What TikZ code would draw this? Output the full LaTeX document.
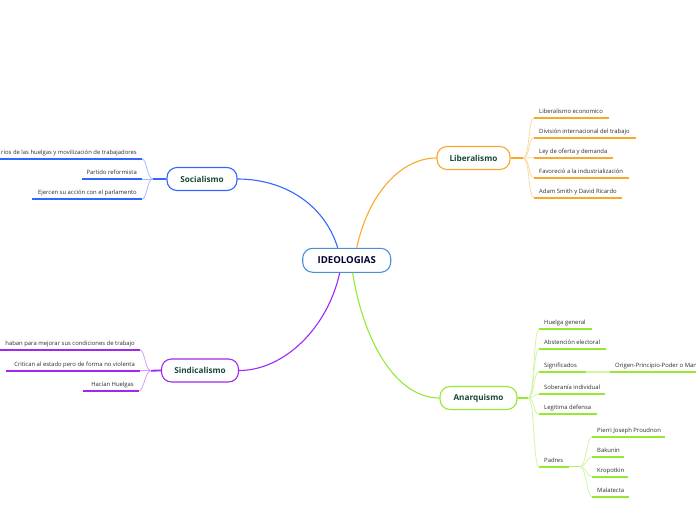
\documentclass[tikz,border=0pt]{standalone}
\usepackage{fontspec}
\setmainfont{Open Sans}

\definecolor{ideoblue}{RGB}{74,144,217}
\definecolor{socblue}{RGB}{51,102,255}
\definecolor{liborange}{RGB}{250,168,45}
\definecolor{sinpurple}{RGB}{160,40,240}
\definecolor{anagreen}{RGB}{150,232,50}
\definecolor{titlegreen}{RGB}{24,72,58}
\definecolor{leafgray}{RGB}{45,45,45}

\tikzset{
  topic/.style={draw, fill=white, rounded corners=10pt, line width=1.1pt,
    minimum height=23pt, inner sep=0pt, text=titlegreen,
    font=\fontsize{8.2}{10}\selectfont\bfseries},
  leaf/.style={inner sep=0pt, text=leafgray, font=\fontsize{5.9}{7}\selectfont},
  uline/.style={line width=1.8pt},
  twig/.style={line width=0.8pt},
}

\begin{document}
\begin{tikzpicture}[x=1pt,y=-1pt]
\useasboundingbox (0,0) rectangle (696,520);

% central node and the four topics
\node[topic, draw=ideoblue, text=black!80!blue, minimum width=88pt, minimum height=24pt,
  font=\fontsize{9.6}{11}\selectfont\bfseries] (ideo) at (346.7,260.3) {IDEOLOGIAS};
\node[topic, draw=socblue, minimum width=70pt] (soc) at (202,179) {Socialismo};
\node[topic, draw=liborange, minimum width=73pt] (lib) at (473.5,158) {Liberalismo};
\node[topic, draw=sinpurple, minimum width=77pt] (sin) at (200,370.5) {Sindicalismo};
\node[topic, draw=anagreen, minimum width=77pt] (ana) at (478.5,398) {Anarquismo};

\draw[socblue, line width=1.1pt] ([xshift=-9pt]ideo.north) .. controls +(-14,-45) and +(45,0) .. (soc.east);
\draw[liborange, line width=1.1pt] ([xshift=10pt]ideo.north) .. controls +(12,-55) and +(-35,0) .. (lib.west);
\draw[sinpurple, line width=1.1pt] ([xshift=-7pt]ideo.south) .. controls +(-12,55) and +(45,0) .. (sin.east);
\draw[anagreen, line width=1.1pt] ([xshift=6pt]ideo.south) .. controls +(10,65) and +(-45,0) .. (ana.west);

% Liberalismo
\coordinate (libhub) at (523,158);
\coordinate (lib1s) at (534,117.7); \coordinate (lib1e) at (609,117.7);
\coordinate (lib2s) at (534,137.7); \coordinate (lib2e) at (636,137.7);
\coordinate (lib3s) at (534,157.7); \coordinate (lib3e) at (613,157.7);
\coordinate (lib4s) at (534,177.7); \coordinate (lib4e) at (629,177.7);
\coordinate (lib5s) at (534,197.7); \coordinate (lib5e) at (622,197.7);
\draw[liborange, uline] (lib.east) -- (libhub);
\foreach \i in {1,...,5}{
  \draw[liborange!45, twig] (libhub) .. controls +(7,0) and +(-6,0) .. (lib\i s);
  \draw[liborange, uline] (lib\i s) -- (lib\i e);
}
\node[leaf, anchor=base west] (lib1) at ([shift={(5,-4.5)}]lib1s) {Liberalismo economico};
\node[leaf, anchor=base west] (lib2) at ([shift={(5,-4.5)}]lib2s) {División internacional del trabajo};
\node[leaf, anchor=base west] (lib3) at ([shift={(5,-4.5)}]lib3s) {Ley de oferta y demanda};
\node[leaf, anchor=base west] (lib4) at ([shift={(5,-4.5)}]lib4s) {Favoreció a la industrialización};
\node[leaf, anchor=base west] (lib5) at ([shift={(5,-4.5)}]lib5s) {Adam Smith y David Ricardo};

% Socialismo
\coordinate (sochub) at (153,179);
\coordinate (soc1s) at (0,159);  \coordinate (soc1e) at (142,159);
\coordinate (soc2s) at (82,179); \coordinate (soc2e) at (142,179);
\coordinate (soc3s) at (32,199.3); \coordinate (soc3e) at (142,199.3);
\draw[socblue, uline] (soc.west) -- (sochub);
\foreach \i in {1,2,3}{
  \draw[socblue!45, twig] (sochub) .. controls +(-6,0) and +(5,0) .. (soc\i e);
  \draw[socblue, uline] (soc\i s) -- (soc\i e);
}
\node[leaf, anchor=base east] (soc1) at ([shift={(-5,-4.5)}]soc1e) {rios de las huelgas y movilización de trabajadores};
\node[leaf, anchor=base east] (soc2) at ([shift={(-5,-4.5)}]soc2e) {Partido reformista};
\node[leaf, anchor=base east] (soc3) at ([shift={(-5,-4.5)}]soc3e) {Ejercen su acción con el parlamento};

% Sindicalismo
\coordinate (sinhub) at (151,370.7);
\coordinate (sin1s) at (0,350);   \coordinate (sin1e) at (140,350);
\coordinate (sin2s) at (6,370.7); \coordinate (sin2e) at (140,370.7);
\coordinate (sin3s) at (83,390.7); \coordinate (sin3e) at (139,390.7);
\draw[sinpurple, uline] (sin.west) -- (sinhub);
\foreach \i in {1,2,3}{
  \draw[sinpurple!45, twig] (sinhub) .. controls +(-6,0) and +(5,0) .. (sin\i e);
  \draw[sinpurple, uline] (sin\i s) -- (sin\i e);
}
\node[leaf, anchor=base east] (sin1) at ([shift={(-5,-4.5)}]sin1e) {haban para mejorar sus condiciones de trabajo};
\node[leaf, anchor=base east] (sin2) at ([shift={(-5,-4.5)}]sin2e) {Critican al estado pero de forma no violenta};
\node[leaf, anchor=base east] (sin3) at ([shift={(-5,-4.5)}]sin3e) {Hacían Huelgas};

% Anarquismo
\coordinate (anahub) at (528,398);
\coordinate (ana1s) at (539,329.3); \coordinate (ana1e) at (592,329.3);
\coordinate (ana2s) at (539,349.3); \coordinate (ana2e) at (606,349.3);
\coordinate (ana3s) at (539,371.7); \coordinate (ana3e) at (586,371.7);
\coordinate (ana4s) at (539,394);   \coordinate (ana4e) at (605,394);
\coordinate (ana5s) at (539,414.3); \coordinate (ana5e) at (597,414.3);
\coordinate (ana6s) at (539,466.7); \coordinate (ana6e) at (569,466.7);
\draw[anagreen, uline] (ana.east) -- (anahub);
\foreach \i in {1,...,6}{
  \draw[anagreen!45, twig] (anahub) .. controls +(7,0) and +(-6,0) .. (ana\i s);
  \draw[anagreen, uline] (ana\i s) -- (ana\i e);
}
\node[leaf, anchor=base west] (ana1) at ([shift={(5,-4.5)}]ana1s) {Huelga general};
\node[leaf, anchor=base west] (ana2) at ([shift={(5,-4.5)}]ana2s) {Abstención electoral};
\node[leaf, anchor=base west] (ana3) at ([shift={(5,-4.5)}]ana3s) {Significados};
\node[leaf, anchor=base west] (ana4) at ([shift={(5,-4.5)}]ana4s) {Soberanía individual};
\node[leaf, anchor=base west] (ana5) at ([shift={(5,-4.5)}]ana5s) {Legitima defensa};
\node[leaf, anchor=base west] (ana6) at ([shift={(5,-4.5)}]ana6s) {Padres};

% Significados -> origen
\coordinate (sig1s) at (610,371.7); \coordinate (sig1e) at (696,371.7);
\draw[anagreen!45, line width=1.8pt] (ana3e) -- (sig1s);
\draw[anagreen, uline] (sig1s) -- (sig1e);
\node[leaf, anchor=base west] (sig1) at ([shift={(5,-4.5)}]sig1s) {Origen-Principio-Poder o Man};

% Padres
\coordinate (padhub) at (580,466.7);
\coordinate (pad1s) at (592,436.7); \coordinate (pad1e) at (665,436.7);
\coordinate (pad2s) at (592,456.7); \coordinate (pad2e) at (624,456.7);
\coordinate (pad3s) at (592,476.7); \coordinate (pad3e) at (628,476.7);
\coordinate (pad4s) at (592,496.7); \coordinate (pad4e) at (629,496.7);
\draw[anagreen!70, line width=1.4pt] (ana6e) -- (padhub);
\foreach \i in {1,...,4}{
  \draw[anagreen!45, twig] (padhub) .. controls +(6,0) and +(-5,0) .. (pad\i s);
  \draw[anagreen, uline] (pad\i s) -- (pad\i e);
}
\node[leaf, anchor=base west] (pad1) at ([shift={(5,-4.5)}]pad1s) {Pierri Joseph Proudnon};
\node[leaf, anchor=base west] (pad2) at ([shift={(5,-4.5)}]pad2s) {Bakunin};
\node[leaf, anchor=base west] (pad3) at ([shift={(5,-4.5)}]pad3s) {Kropotkin};
\node[leaf, anchor=base west] (pad4) at ([shift={(5,-4.5)}]pad4s) {Malatecta};
\end{tikzpicture}
\end{document}
